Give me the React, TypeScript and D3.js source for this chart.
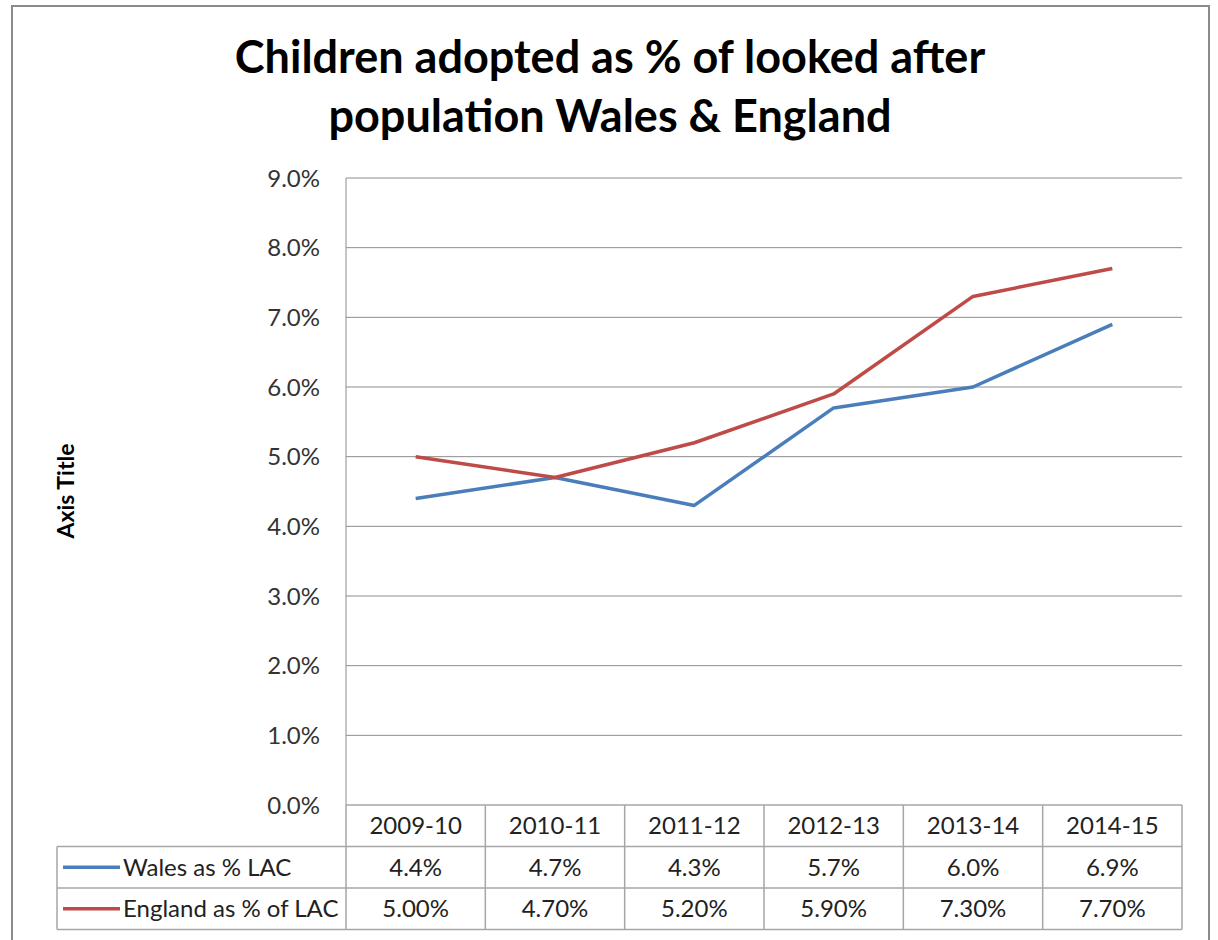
import React from "react";
import * as d3 from "d3";

const categories = ["2009-10", "2010-11", "2011-12", "2012-13", "2013-14", "2014-15"];
const walesValues = [4.4, 4.7, 4.3, 5.7, 6.0, 6.9];
const englandValues = [5.0, 4.7, 5.2, 5.9, 7.3, 7.7];
const walesLabels = ["4.4%", "4.7%", "4.3%", "5.7%", "6.0%", "6.9%"];
const englandLabels = ["5.00%", "4.70%", "5.20%", "5.90%", "7.30%", "7.70%"];
const yTicks = [0, 1, 2, 3, 4, 5, 6, 7, 8, 9];
const seriesNames = ["Wales as % LAC", "England as % of LAC"];
const titleLines = ["Children adopted as % of looked after", "population Wales & England"];

const W = 1218;
const H = 940;
const FONT = "Lato, 'Open Sans', sans-serif";

export default function App() {
  const left = 346;
  const right = 1182;
  const top = 178;
  const bottom = 805;
  const tableLeft = 57;
  const rowH = 41.5;
  const fs = 24;

  const x = d3.scaleBand<string>().domain(categories).range([left, right]);
  const y = d3.scaleLinear().domain([0, 9]).range([bottom, top]);
  const line = d3
    .line<number>()
    .x((_, i) => (x(categories[i]) as number) + x.bandwidth() / 2)
    .y((d) => y(d));

  const series = [
    { name: seriesNames[0], values: walesValues, labels: walesLabels, color: "#4a7ebb" },
    { name: seriesNames[1], values: englandValues, labels: englandLabels, color: "#be4b48" },
  ];

  const gridColor = "#8c8c8c";
  const tableColor = "#a6a6a6";

  return (
    <svg width={W} height={H} style={{ position: "absolute", left: 0, top: 0 }} fontFamily={FONT}>
      <rect x={0} y={0} width={W} height={H} fill="#fff" />
      <rect x={12} y={6} width={1197} height={940} fill="#fff" stroke="#8a8a8a" strokeWidth={2} />
      {titleLines.map((t, i) => (
        <text key={i} x={610} y={73 + i * 59} textAnchor="middle" fontSize={45} fontWeight={700} fill="#000">
          {t}
        </text>
      ))}
      <text
        transform={`translate(74,${491}) rotate(-90)`}
        textAnchor="middle"
        fontSize={23}
        fontWeight={700}
        fill="#000"
      >
        Axis Title
      </text>
      {yTicks.map((t) => (
        <g key={t}>
          {t > 0 && (
            <line x1={left} x2={right} y1={y(t)} y2={y(t)} stroke={gridColor} strokeWidth={1} />
          )}
          <text x={320} y={y(t) + 8.5} textAnchor="end" fontSize={fs} fill="#333">
            {t.toFixed(1) + "%"}
          </text>
        </g>
      ))}
      <line x1={left} x2={left} y1={top} y2={bottom} stroke={gridColor} strokeWidth={1} />
      {/* table */}
      <g stroke={tableColor} strokeWidth={1.5} fill="none">
        <line x1={left} x2={right} y1={bottom} y2={bottom} />
        <line x1={tableLeft} x2={right} y1={bottom + rowH} y2={bottom + rowH} />
        <line x1={tableLeft} x2={right} y1={bottom + 2 * rowH} y2={bottom + 2 * rowH} />
        <line x1={tableLeft} x2={right} y1={bottom + 3 * rowH} y2={bottom + 3 * rowH} />
        <line x1={tableLeft} x2={tableLeft} y1={bottom + rowH} y2={bottom + 3 * rowH} />
        {categories.map((c) => (
          <line key={c} x1={x(c) as number} x2={x(c) as number} y1={bottom} y2={bottom + 3 * rowH} />
        ))}
        <line x1={right} x2={right} y1={bottom} y2={bottom + 3 * rowH} />
      </g>
      {categories.map((c) => (
        <text
          key={c}
          x={(x(c) as number) + x.bandwidth() / 2}
          y={bottom + rowH / 2 + 8.5}
          textAnchor="middle"
          fontSize={fs}
          fill="#222"
        >
          {c}
        </text>
      ))}
      {series.map((s, si) => {
        const cy = bottom + rowH * (si + 1) + rowH / 2;
        return (
          <g key={s.name}>
            <line x1={63} x2={120} y1={cy} y2={cy} stroke={s.color} strokeWidth={3.5} />
            <text x={123} y={cy + 8.5} fontSize={fs} fill="#222">
              {s.name}
            </text>
            {s.labels.map((l, i) => (
              <text
                key={i}
                x={(x(categories[i]) as number) + x.bandwidth() / 2}
                y={cy + 8.5}
                textAnchor="middle"
                fontSize={fs}
                fill="#222"
              >
                {l}
              </text>
            ))}
          </g>
        );
      })}
      {series.map((s) => (
        <path key={s.name} d={line(s.values) || ""} fill="none" stroke={s.color} strokeWidth={3.5} strokeLinejoin="round" />
      ))}
    </svg>
  );
}
